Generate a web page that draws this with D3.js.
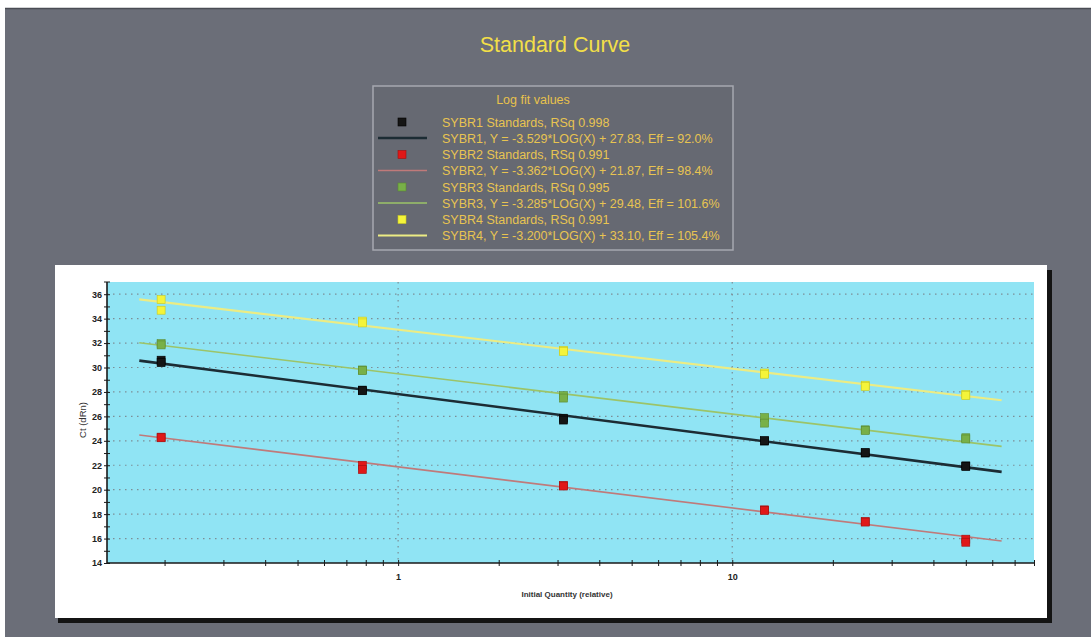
<!DOCTYPE html>
<html>
<head>
<meta charset="utf-8">
<script src="https://cdn.jsdelivr.net/npm/d3@7"></script>
<style>
  html, body { margin: 0; padding: 0; background: #ffffff; }
  svg { display: block; font-family: "Liberation Sans", Arial, sans-serif; }
</style>
</head>
<body>
<svg id="chart" width="1091" height="637"></svg>
<script>
// Dilution series (relative initial quantity)
const quantities = [0.1953, 0.7813, 3.125, 12.5, 25, 50];

// Ct readings, two replicates per standard
const sybr1RepA = [30.6, 28.15, 25.85, 23.98, 23.0, 21.95];
const sybr1RepB = [30.4, 28.1, 25.7, 24.02, 23.05, 21.9];
const sybr2RepA = [24.3, 22.0, 20.35, 18.35, 17.4, 15.95];
const sybr2RepB = [24.25, 21.65, 20.3, 18.3, 17.35, 15.7];
const sybr3RepA = [31.95, 29.8, 27.7, 25.9, 24.9, 24.25];
const sybr3RepB = [31.85, 29.75, 27.5, 25.45, 24.85, 24.15];
const sybr4RepA = [35.56, 33.8, 31.4, 29.55, 28.55, 27.8];
const sybr4RepB = [34.69, 33.65, 31.3, 29.45, 28.45, 27.7];

// Log fit parameters
const seriesNames = ["SYBR1", "SYBR2", "SYBR3", "SYBR4"];
const slopes = [-3.529, -3.362, -3.285, -3.200];
const intercepts = [27.83, 21.87, 29.48, 33.10];
const rsq = ["0.998", "0.991", "0.995", "0.991"];
const efficiency = ["92.0", "98.4", "101.6", "105.4"];
const fitRange = [0.168, 64];

// Axis ticks
const yTickValues = [14, 16, 18, 20, 22, 24, 26, 28, 30, 32, 34, 36];
const xLabelTicks = [1, 10];

const markerColors = ["#151515", "#e01818", "#78b048", "#f4f43a"];
const markerStroke = ["#000000", "#a01010", "#5a8a30", "#c8c820"];
const lineColors = ["#1c2c34", "#c07a7a", "#9cc468", "#ecec84"];
const lineWidths = [2.6, 1.6, 1.6, 2.2];

const replicates = [
  [sybr1RepA, sybr1RepB],
  [sybr2RepA, sybr2RepB],
  [sybr3RepA, sybr3RepB],
  [sybr4RepA, sybr4RepB]
];

const svg = d3.select("#chart");

// Gray panel behind everything
svg.append("rect").attr("x", 5).attr("y", 8).attr("width", 1086).attr("height", 629)
  .attr("fill", "#6b6e78");
svg.append("line").attr("x1", 5).attr("x2", 1091).attr("y1", 8.5).attr("y2", 8.5)
  .attr("stroke", "#4a4c54").attr("stroke-width", 1.5);

// Title
svg.append("text").attr("x", 555).attr("y", 52).attr("text-anchor", "middle")
  .attr("font-size", 21.5).attr("fill", "#f2df48").text("Standard Curve");

// Legend
const lg = svg.append("g");
lg.append("rect").attr("x", 373).attr("y", 86).attr("width", 360).attr("height", 164)
  .attr("fill", "#666972").attr("stroke", "#a6a8b0").attr("stroke-width", 1.5);
lg.append("text").attr("x", 533).attr("y", 104).attr("text-anchor", "middle")
  .attr("font-size", 12.5).attr("fill", "#e8c24c").text("Log fit values");

seriesNames.forEach((name, i) => {
  const y1 = 122 + i * 32.5;
  const y2 = y1 + 16;
  lg.append("rect").attr("x", 398).attr("y", y1 - 4).attr("width", 8).attr("height", 8)
    .attr("fill", markerColors[i]).attr("stroke", markerStroke[i]).attr("stroke-width", 0.6);
  lg.append("line").attr("x1", 378).attr("x2", 427).attr("y1", y2).attr("y2", y2)
    .attr("stroke", lineColors[i]).attr("stroke-width", lineWidths[i]);
  lg.append("text").attr("x", 442).attr("y", y1 + 4.5).attr("font-size", 12.5)
    .attr("fill", "#e8c451").text(`${name} Standards, RSq ${rsq[i]}`);
  const b = intercepts[i].toFixed(2);
  lg.append("text").attr("x", 442).attr("y", y2 + 4.5).attr("font-size", 12.5)
    .attr("fill", "#e8c451")
    .text(`${name}, Y = ${slopes[i].toFixed(3)}*LOG(X) + ${b}, Eff = ${efficiency[i]}%`);
});

// White chart frame with drop shadow
svg.append("rect").attr("x", 58).attr("y", 270).attr("width", 994).attr("height", 353)
  .attr("fill", "#141414");
svg.append("rect").attr("x", 55).attr("y", 265).attr("width", 992).attr("height", 353)
  .attr("fill", "#ffffff");

// Plot area
const plot = { left: 107, right: 1034, top: 282, bottom: 563 };
const x = d3.scaleLog().domain([0.1345, 80]).range([plot.left, plot.right]);
const y = d3.scaleLinear().domain([14, 37]).range([plot.bottom, plot.top]);

svg.append("rect").attr("x", plot.left).attr("y", plot.top)
  .attr("width", plot.right - plot.left).attr("height", plot.bottom - plot.top)
  .attr("fill", "#90e4f4");

// Dotted grid
const grid = svg.append("g").attr("stroke", "#7c8e96").attr("stroke-width", 1.2)
  .attr("stroke-dasharray", "1.5,4.5");
grid.selectAll("line.h").data(yTickValues.filter(v => v > 14)).join("line")
  .attr("x1", plot.left).attr("x2", plot.right)
  .attr("y1", d => y(d)).attr("y2", d => y(d));
grid.selectAll("line.v").data(xLabelTicks).join("line")
  .attr("x1", d => x(d)).attr("x2", d => x(d))
  .attr("y1", plot.top).attr("y2", plot.bottom);

// Fit lines
const fitLine = d3.line().x(d => x(d[0])).y(d => y(d[1]));
seriesNames.forEach((name, i) => {
  const pts = fitRange.map(q => [q, slopes[i] * Math.log10(q) + intercepts[i]]);
  svg.append("path").attr("d", fitLine(pts)).attr("fill", "none")
    .attr("stroke", lineColors[i]).attr("stroke-width", lineWidths[i]);
});

// Standard points
const ms = 8;
replicates.forEach((reps, i) => {
  reps.forEach(vals => {
    svg.append("g").selectAll("rect").data(vals).join("rect")
      .attr("x", (d, j) => x(quantities[j]) - ms / 2)
      .attr("y", d => y(d) - ms / 2)
      .attr("width", ms).attr("height", ms)
      .attr("fill", markerColors[i]).attr("stroke", markerStroke[i]).attr("stroke-width", 0.6);
  });
});

// Y axis
const yAxis = d3.axisLeft(y).tickValues(d3.range(14, 37, 1))
  .tickSize(0).tickFormat(d => (d % 2 === 0 ? d : ""));
const yg = svg.append("g").attr("transform", `translate(${plot.left},0)`).call(yAxis);
yg.select(".domain").remove();
yg.append("line").attr("x1", 0).attr("x2", 0).attr("y1", plot.top).attr("y2", plot.bottom)
  .attr("stroke", "#1a1a1a").attr("stroke-width", 1.6);
yg.append("line").attr("x1", -3).attr("x2", 3).attr("y1", plot.top).attr("y2", plot.top)
  .attr("stroke", "#1a1a1a").attr("stroke-width", 1);
yg.selectAll(".tick").append("line").attr("x1", -3).attr("x2", 3)
  .attr("stroke", "#1a1a1a").attr("stroke-width", 1);
yg.selectAll(".tick text").attr("x", -5).attr("font-size", 9).attr("font-weight", "bold")
  .attr("fill", "#222").attr("font-family", "Liberation Sans Narrow, Arial, sans-serif");

// X axis
const minorTicks = x.ticks(30).filter(v => v >= 0.14 && v <= 80);
const xAxis = d3.axisBottom(x).tickValues(minorTicks).tickSize(0)
  .tickFormat(d => (xLabelTicks.includes(d) ? d3.format("d")(d) : ""));
const xg = svg.append("g").attr("transform", `translate(0,${plot.bottom})`).call(xAxis);
xg.select(".domain").remove();
xg.append("line").attr("x1", plot.left).attr("x2", plot.right).attr("y1", 0).attr("y2", 0)
  .attr("stroke", "#1a1a1a").attr("stroke-width", 1.6);
xg.selectAll(".tick").append("line").attr("y1", -3).attr("y2", 3)
  .attr("stroke", "#1a1a1a").attr("stroke-width", 1);
xg.selectAll(".tick text").attr("y", 11).attr("font-size", 9).attr("font-weight", "bold")
  .attr("fill", "#222").attr("font-family", "Liberation Sans Narrow, Arial, sans-serif");

// Axis titles
svg.append("text").attr("transform", "translate(86,420) rotate(-90)")
  .attr("text-anchor", "middle").attr("font-size", 9.5).attr("fill", "#333")
  .text("Ct (dRn)");
svg.append("text").attr("x", 567).attr("y", 597).attr("text-anchor", "middle")
  .attr("font-size", 8).attr("font-weight", "bold").attr("fill", "#333")
  .attr("font-family", "Liberation Sans Narrow, Arial, sans-serif")
  .text("Initial Quantity (relative)");
</script>
</body>
</html>
